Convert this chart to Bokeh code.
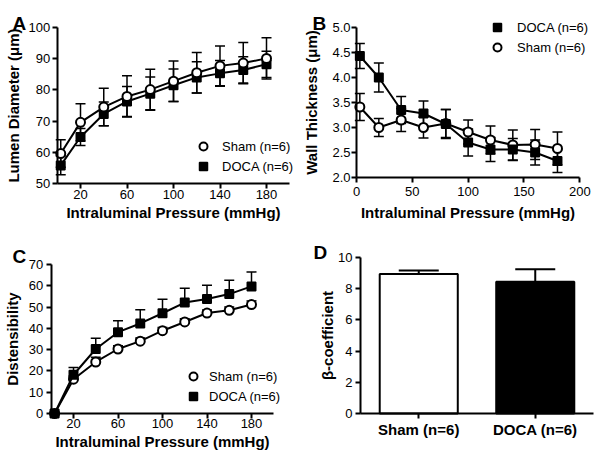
from bokeh.plotting import figure
from bokeh.models import (Range1d, Whisker, TeeHead, ColumnDataSource, Legend,
                          LegendItem, Label, FixedTicker)
from bokeh.layouts import gridplot
from bokeh.embed import file_html
from bokeh.resources import INLINE

# ---------------- data ----------------
pressure = [3, 20, 40, 60, 80, 100, 120, 140, 160, 180]

# A: lumen diameter (um)
sham_diam = [59.6, 69.6, 74.5, 77.9, 80.1, 82.8, 85.5, 87.7, 88.6, 90.1]
sham_diam_err = [4.4, 6.0, 6.0, 6.6, 6.5, 6.5, 6.5, 6.4, 6.6, 6.6]
doca_diam = [55.8, 64.9, 72.3, 76.3, 78.8, 81.5, 84.0, 85.3, 86.4, 88.2]
doca_diam_err = [3.0, 2.7, 3.8, 4.8, 5.3, 5.2, 5.0, 4.1, 4.2, 4.2]

# B: wall thickness (um)
doca_wall = [4.43, 4.00, 3.35, 3.28, 3.07, 2.70, 2.56, 2.56, 2.50, 2.33]
doca_wall_err = [0.25, 0.29, 0.27, 0.25, 0.29, 0.27, 0.24, 0.22, 0.25, 0.23]
sham_wall = [3.41, 3.00, 3.15, 3.00, 3.08, 2.91, 2.75, 2.65, 2.66, 2.58]
sham_wall_err = [0.27, 0.18, 0.23, 0.21, 0.28, 0.24, 0.28, 0.30, 0.30, 0.33]

# C: distensibility
sham_dist = [0, 16.1, 24.2, 30.3, 34.0, 38.9, 43.0, 47.2, 48.5, 51.2]
sham_dist_err = [0, 1.5, 2.2, 1.5, 1.5, 1.5, 1.5, 1.4, 1.5, 1.7]
doca_dist = [0, 18.2, 30.3, 38.2, 42.3, 47.1, 52.1, 53.8, 56.1, 59.7]
doca_dist_err = [0, 3.4, 5.1, 5.4, 6.4, 6.6, 6.8, 6.4, 6.5, 6.8]

# D: beta-coefficient
groups = ["Sham (n=6)", "DOCA (n=6)"]
beta = [8.95, 8.45]
beta_err = [0.22, 0.80]

# tick labels
ticks_a_x = [20, 60, 100, 140, 180]
ticks_a_y = [50, 60, 70, 80, 90, 100]
ticks_b_x = [0, 50, 100, 150, 200]
ticks_b_y = [2.0, 2.5, 3.0, 3.5, 4.0, 4.5, 5.0]
ticks_c_x = [20, 60, 100, 140, 180]
ticks_c_y = [0, 10, 20, 30, 40, 50, 60, 70]
ticks_d_y = [0, 2, 4, 6, 8, 10]

x_title = "Intraluminal Pressure (mmHg)"
FONT = "Liberation Sans"

# ---------------- helpers ----------------
def rng_x(v0, p0, v1, p1, size):
    s = (p1 - p0) / (v1 - v0)
    start = v0 - p0 / s
    return Range1d(start, start + size / s)


def rng_y(v_top, p_top, v_bot, p_bot, size):
    s = (p_bot - p_top) / (v_top - v_bot)
    end = v_top + p_top / s
    return Range1d(end - size / s, end)


def make_fig(w, h, xr, yr):
    p = figure(width=w, height=h, x_range=xr, y_range=yr, output_backend="svg",
               toolbar_location=None, min_border=0)
    p.outline_line_color = None
    p.grid.visible = False
    p.background_fill_color = "white"
    p.border_fill_color = "white"
    for ax in p.axis:
        ax.axis_line_width = 2
        ax.axis_line_color = "black"
        ax.major_tick_line_width = 2
        ax.major_tick_line_color = "black"
        ax.major_tick_out = 5
        ax.major_tick_in = 0
        ax.minor_tick_line_color = None
        ax.major_label_text_font = FONT
        ax.major_label_text_font_size = "13px"
        ax.major_label_text_color = "black"
        ax.axis_label_text_font = FONT
        ax.axis_label_text_font_size = "15px"
        ax.axis_label_text_font_style = "bold"
        ax.axis_label_text_color = "black"
    return p


def set_axes(p, xloc, yloc, xb, yb, xt, yt, xlabel, ylabel,
             xls, xas, yls, yas):
    p.xaxis.fixed_location = xloc
    p.yaxis.fixed_location = yloc
    p.xaxis.bounds = xb
    p.yaxis.bounds = yb
    p.xaxis.ticker = FixedTicker(ticks=xt)
    p.yaxis.ticker = FixedTicker(ticks=yt)
    p.xaxis.axis_label = xlabel
    p.yaxis.axis_label = ylabel
    p.xaxis.major_label_standoff = xls
    p.xaxis.axis_label_standoff = xas
    p.yaxis.major_label_standoff = yls
    p.yaxis.axis_label_standoff = yas


def panel_letter(p, text, x, y_from_top):
    p.add_layout(Label(x=x, y=p.height - y_from_top, x_units="screen",
                       y_units="screen", text=text, text_font=FONT,
                       text_font_size="19px", text_font_style="bold",
                       text_color="black", text_baseline="alphabetic"))


def series(p, xs, ys, errs, kind, up=True, down=True, cap=10):
    src = ColumnDataSource(dict(
        x=xs, y=ys,
        upper=[a + (e if up else 0) for a, e in zip(ys, errs)],
        lower=[a - (e if down else 0) for a, e in zip(ys, errs)]))
    w = Whisker(source=src, base="x", upper="upper", lower="lower",
                line_width=1.5, line_color="black", level="underlay",
                upper_head=TeeHead(size=cap, line_width=1.5, line_color="black") if up else None,
                lower_head=TeeHead(size=cap, line_width=1.5, line_color="black") if down else None)
    p.add_layout(w)
    p.line("x", "y", source=src, line_color="black", line_width=2)
    if kind == "circle":
        r = p.scatter("x", "y", source=src, marker="circle", size=9,
                      fill_color="white", line_color="black", line_width=2)
    else:
        r = p.scatter("x", "y", source=src, marker="square", size=8.5,
                      fill_color="black", line_color="black", line_width=1.5)
    return r


def add_legend(p, items, loc, spacing, standoff):
    lg = Legend(items=[LegendItem(label=t, renderers=[r]) for t, r in items],
                location=loc, padding=0, margin=0, border_line_color=None,
                background_fill_alpha=0, glyph_width=20, glyph_height=20,
                label_height=16, spacing=spacing, label_standoff=standoff,
                label_text_font=FONT, label_text_font_size="13px",
                label_text_color="black")
    p.add_layout(lg)


WL, WR, HT, HB = 300, 302, 230, 228

# ---------------- A ----------------
pA = make_fig(WL, HT, rng_x(20, 80, 180, 266, WL), rng_y(100, 27, 50, 183, HT))
set_axes(pA, 50, 0, (0, 200), (50, 100), ticks_a_x, ticks_a_y,
         x_title, "Lumen Diameter (\u03bcm)", 1, 2, 2, 4)
rA_d = series(pA, pressure, doca_diam, doca_diam_err, "square")
rA_s = series(pA, pressure, sham_diam, sham_diam_err, "circle")
add_legend(pA, [("Sham (n=6)", rA_s), ("DOCA (n=6)", rA_d)], (193, 54), -2, 9)
panel_letter(pA, "A", 12, 23)

# ---------------- B ----------------
pB = make_fig(WR, HT, rng_x(0, 56, 200, 279.3, WR), rng_y(5.0, 27, 2.0, 177, HT))
set_axes(pB, 2.0, 0, (0, 200), (2.0, 5.0), ticks_b_x, ticks_b_y,
         x_title, "Wall Thickness (\u03bcm)", 4, 5, 1, 9)
pB.yaxis.major_label_overrides = {v: f"{v:.1f}" for v in ticks_b_y}
rB_s = series(pB, pressure, sham_wall, sham_wall_err, "circle")
rB_d = series(pB, pressure, doca_wall, doca_wall_err, "square")
add_legend(pB, [("DOCA (n=6)", rB_d), ("Sham (n=6)", rB_s)], (187, 173), -3, 10)
panel_letter(pB, "B", 12, 23)

# ---------------- C ----------------
pC = make_fig(WL, HB, rng_x(20, 73, 180, 251, WL), rng_y(70, 34, 0, 183, HB))
set_axes(pC, 0, 0, (0, 200), (0, 70), ticks_c_x, ticks_c_y,
         x_title, "Distensibility", 0, 2, 3, 5)
rC_s = series(pC, pressure, sham_dist, sham_dist_err, "circle", down=False)
rC_d = series(pC, pressure, doca_dist, doca_dist_err, "square", down=False)
add_legend(pC, [("Sham (n=6)", rC_s), ("DOCA (n=6)", rC_d)], (183, 52), -1, 6)
panel_letter(pC, "C", 12, 26)

# ---------------- D ----------------
pD = make_fig(WR, HB, rng_x(0, 60, 2, 293, WR), rng_y(10, 27, 0, 183, HB))
xpos = [i + 0.5 for i in range(len(groups))]
set_axes(pD, 0, 0, (0, 2), (0, 10), xpos, ticks_d_y,
         None, "\u03b2-coefficient", 2, 0, 3, -1)
pD.xaxis.major_label_overrides = {x: g for x, g in zip(xpos, groups)}
pD.xaxis.major_label_text_font_size = "15px"
pD.xaxis.major_label_text_font_style = "bold"
srcD = ColumnDataSource(dict(x=xpos, top=beta, color=["white", "black"],
                             upper=[b + e for b, e in zip(beta, beta_err)]))
pD.add_layout(Whisker(source=srcD, base="x", upper="upper", lower="top",
                      line_width=2, line_color="black",
                      upper_head=TeeHead(size=40, line_width=2, line_color="black"),
                      lower_head=None))
pD.vbar(x="x", top="top", bottom=0, width=0.67, source=srcD, fill_color="color",
        line_color="black", line_width=2)
panel_letter(pD, "D", 13, 22)

grid = gridplot([[pA, pB], [pC, pD]], toolbar_location=None)

open("out.html", "w").write(file_html(grid, INLINE))
